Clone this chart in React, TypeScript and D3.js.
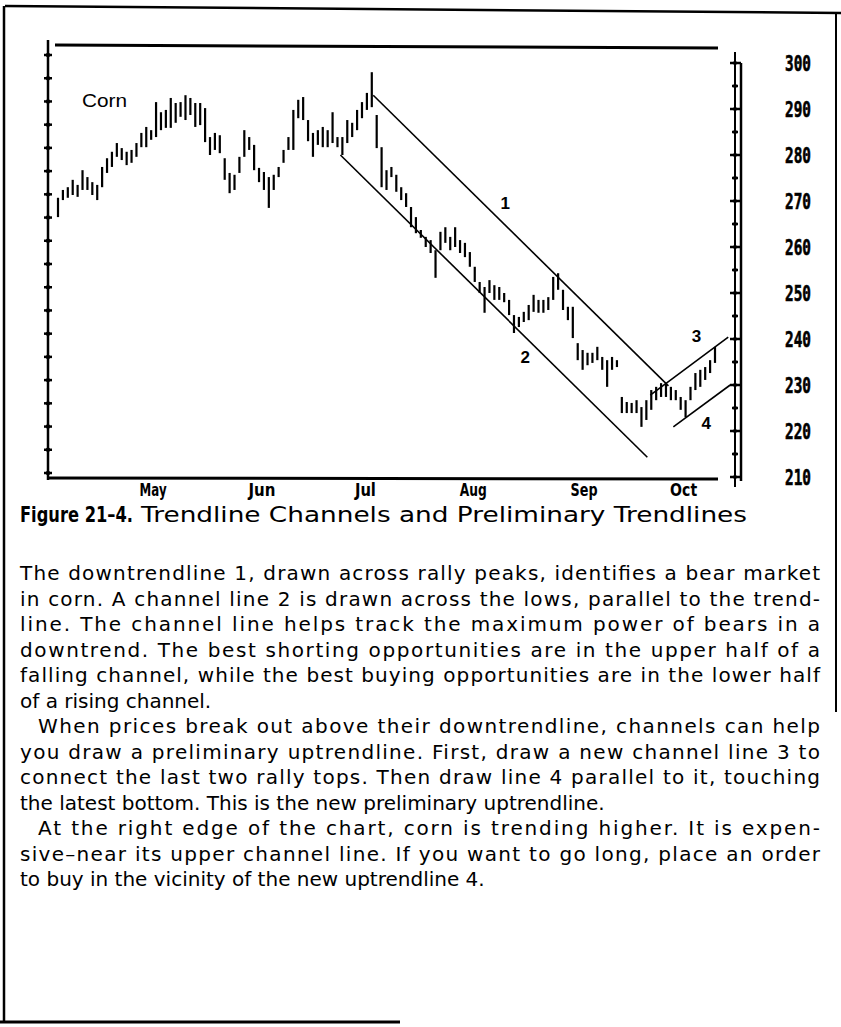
import React from "react";
import * as d3 from "d3";

// ---- data ----
const highs = [
  270.7, 272.4, 273.0, 274.6, 273.5, 276.7, 275.2, 274.1, 273.5, 277.4,
  279.3, 280.7, 282.6, 281.5, 280.7, 281.1, 282.6, 284.8, 286.1, 285.4,
  291.5, 289.3, 289.8, 292.4, 291.3, 291.5, 293.0, 292.4, 291.3, 291.3,
  290.2, 283.9, 284.8, 284.3, 279.3, 276.1, 275.7, 279.6, 285.4, 283.9,
  282.2, 277.2, 276.3, 275.2, 275.7, 277.4, 281.1, 283.9, 289.8, 292.0,
  292.6, 287.6, 284.8, 285.4, 286.1, 285.4, 289.3, 283.9, 283.9, 287.6,
  287.0, 289.8, 291.5, 293.5, 298.0, 288.7, 281.7, 276.7, 277.4, 275.7,
  273.0, 271.7, 268.7, 266.5, 263.7, 262.2, 261.5, 259.3, 263.3, 264.3,
  262.2, 264.3, 261.5, 260.9, 258.9, 255.7, 252.4, 251.3, 252.8, 251.7,
  251.3, 250.0, 248.5, 245.2, 244.8, 245.9, 247.4, 249.6, 248.5, 248.5,
  249.1, 253.5, 254.3, 250.7, 247.0, 247.0, 239.1, 237.6, 237.0, 237.0,
  238.3, 236.1, 235.4, 236.1, 235.4, 227.4, 226.3, 226.1, 226.7, 225.2,
  226.7, 228.9, 229.6, 230.4, 230.4, 229.6, 228.9, 227.4, 226.7, 229.6,
  232.6, 233.3, 233.9, 235.4, 238.3,
];
const lows = [
  266.5, 270.2, 270.7, 271.3, 270.9, 272.4, 272.4, 271.3, 270.2, 273.0,
  276.1, 277.4, 279.6, 278.9, 277.8, 278.3, 279.6, 281.7, 281.7, 283.3,
  283.9, 285.4, 285.9, 285.9, 287.0, 288.3, 287.6, 288.7, 286.1, 286.5,
  282.8, 280.0, 281.1, 280.4, 274.6, 271.7, 272.4, 276.1, 279.6, 281.1,
  276.7, 274.1, 272.4, 268.5, 272.4, 275.2, 278.3, 281.1, 281.1, 288.0,
  287.6, 283.0, 279.6, 282.2, 281.7, 281.7, 282.6, 281.7, 280.0, 282.6,
  283.9, 285.4, 288.0, 289.8, 290.4, 281.5, 273.0, 272.4, 275.2, 272.0,
  270.2, 268.7, 264.3, 263.0, 262.0, 260.0, 258.7, 253.3, 259.3, 260.9,
  259.3, 260.0, 258.7, 257.8, 255.7, 252.4, 250.0, 245.7, 250.0, 248.5,
  248.5, 248.0, 245.2, 241.3, 242.6, 243.7, 244.1, 245.9, 245.7, 245.7,
  246.3, 248.5, 250.7, 246.3, 244.1, 240.2, 235.4, 233.3, 234.3, 234.8,
  235.4, 233.3, 229.6, 233.3, 233.9, 223.9, 223.9, 223.9, 223.9, 220.9,
  222.4, 224.6, 226.7, 227.4, 227.4, 226.7, 226.7, 224.6, 223.0, 226.7,
  228.9, 229.6, 231.1, 232.6, 234.8,
];
const monthLabels = ["May", "Jun", "Jul", "Aug", "Sep", "Oct"];
const monthIndex = [19.4, 41.6, 62.7, 84.7, 107.3, 127.6];
const priceTicks = [300, 290, 280, 270, 260, 250, 240, 230, 220, 210];
// trendlines: start/end as [bar index, price]; label position likewise
const trendLines = [
  { id: "1", x1: 64.3, p1: 293.0, x2: 124.5, p2: 229.8, lx: 91.2, lp: 269.6 },
  { id: "2", x1: 57.6, p1: 280.0, x2: 120.2, p2: 214.3, lx: 95.3, lp: 236.1 },
  { id: "3", x1: 120.8, p1: 227.8, x2: 136.7, p2: 240.4, lx: 130.2, lp: 240.7 },
  { id: "4", x1: 125.5, p1: 220.9, x2: 137.1, p2: 230.0, lx: 132.2, lp: 221.7 },
];
const caption = ["Figure 21–4.", "Trendline Channels and Preliminary Trendlines"];
const bodyLines = [
  { t: "The downtrendline 1, drawn across rally peaks, identifies a bear market", j: true, ind: false },
  { t: "in corn. A channel line 2 is drawn across the lows, parallel to the trend-", j: true, ind: false },
  { t: "line. The channel line helps track the maximum power of bears in a", j: true, ind: false },
  { t: "downtrend. The best shorting opportunities are in the upper half of a", j: true, ind: false },
  { t: "falling channel, while the best buying opportunities are in the lower half", j: true, ind: false },
  { t: "of a rising channel.", j: false, ind: false },
  { t: "When prices break out above their downtrendline, channels can help", j: true, ind: true },
  { t: "you draw a preliminary uptrendline. First, draw a new channel line 3 to", j: true, ind: false },
  { t: "connect the last two rally tops. Then draw line 4 parallel to it, touching", j: true, ind: false },
  { t: "the latest bottom. This is the new preliminary uptrendline.", j: false, ind: false },
  { t: "At the right edge of the chart, corn is trending higher. It is expen-", j: true, ind: true },
  { t: "sive–near its upper channel line. If you want to go long, place an order", j: true, ind: false },
  { t: "to buy in the vicinity of the new uptrendline 4.", j: false, ind: false },
];

export default function App() {
  const W = 841, H = 1027;
  const x = d3.scaleLinear().domain([0, highs.length - 1]).range([58, 715]);
  const y = d3.scaleLinear().domain([210, 300]).range([477, 63]);
  const yLeft = d3.scaleLinear().domain([210, 300]).range([473, 55]);
  const halfTicks = d3.range(210, 300.1, 5);
  const axisX = 735;
  const textLeft = 20, textRight = 820;
  const bodyTop = 580, lineH = 25.5;
  const bodyFont = "'DejaVu Sans', 'Open Sans', sans-serif";

  return (
    <svg width={W} height={H} style={{ position: "absolute", left: 0, top: 0, background: "#fff" }}>
      <rect x={0} y={0} width={W} height={H} fill="#fff" />
      {/* outer frame */}
      <g stroke="#000" fill="none">
        <line x1={5} y1={6} x2={841} y2={13} strokeWidth={2.5} />
        <line x1={4} y1={6} x2={4} y2={1023} strokeWidth={2.5} />
        <line x1={836} y1={12} x2={836} y2={712} strokeWidth={2} />
        <line x1={0} y1={1022} x2={400} y2={1022} strokeWidth={3} />
      </g>

      {/* chart frame */}
      <g stroke="#000" fill="none">
        <line x1={55} y1={45} x2={718} y2={48} strokeWidth={3} />
        <line x1={48} y1={40} x2={48} y2={480} strokeWidth={2.5} />
        <line x1={48} y1={478} x2={718} y2={479} strokeWidth={3} />
        <line x1={axisX} y1={52} x2={axisX} y2={487} strokeWidth={2} />
        <line x1={axisX + 6} y1={63} x2={axisX + 6} y2={481} strokeWidth={2.5} />
      </g>
      {/* left ticks */}
      <g stroke="#000" strokeWidth={2.5}>
        {halfTicks.map((v) => (
          <g key={"l" + v}>
            <line x1={44} x2={52} y1={yLeft(v)} y2={yLeft(v)} />
            <circle cx={48} cy={yLeft(v)} r={2.2} fill="#000" stroke="none" />
          </g>
        ))}
      </g>
      {/* right ticks */}
      <g stroke="#000" strokeWidth={2.5}>
        {halfTicks.map((v) => {
          const major = v % 10 === 0;
          return (
            <g key={"r" + v}>
              <line x1={axisX - (major ? 5 : 3)} x2={major ? axisX + 6 : axisX + 3} y1={y(v)} y2={y(v)} />
              <circle cx={axisX} cy={y(v)} r={2} fill="#000" stroke="none" />
            </g>
          );
        })}
      </g>
      {/* right labels */}
      <g fontFamily="'DejaVu Sans Mono', monospace" fontWeight="bold" fontSize={21} fill="#000" stroke="#000" strokeWidth={0.6}>
        {priceTicks.map((v) => (
          <text key={"t" + v} x={785} y={y(v) + 7.5} textLength={26} lengthAdjust="spacingAndGlyphs">
            {String(v)}
          </text>
        ))}
      </g>
      {/* month labels */}
      <g fontFamily="'DejaVu Sans', sans-serif" fontWeight="bold" fontSize={17} fill="#000" textAnchor="middle">
        {monthLabels.map((m, i) => (
          <text key={m} x={x(monthIndex[i])} y={496} textLength={m === "Jul" ? 21 : 27} lengthAdjust="spacingAndGlyphs">
            {m}
          </text>
        ))}
      </g>

      {/* price bars */}
      <g stroke="#000" strokeWidth={2.2}>
        {highs.map((h, i) => (
          <line key={"b" + i} x1={x(i)} x2={x(i)} y1={y(h)} y2={y(lows[i])} />
        ))}
      </g>

      {/* trendlines */}
      <g stroke="#000" strokeWidth={1.6}>
        {trendLines.map((l) => (
          <line key={"tl" + l.id} x1={x(l.x1)} y1={y(l.p1)} x2={x(l.x2)} y2={y(l.p2)} />
        ))}
      </g>
      <g fontFamily="'Liberation Sans', Arial, sans-serif" fontSize={17} fontWeight="bold" fill="#000" textAnchor="middle">
        {trendLines.map((l) => (
          <text key={"tt" + l.id} x={x(l.lx)} y={y(l.lp) + 6}>{l.id}</text>
        ))}
      </g>
      <text x={82} y={107} fontFamily="'Liberation Sans', Arial, sans-serif" fontSize={19} fill="#000" textLength={45} lengthAdjust="spacingAndGlyphs">Corn</text>

      {/* caption */}
      <g transform="translate(20,522) scale(0.74,1)">
        <text x={0} y={0} fontFamily={bodyFont} fontWeight="bold" fontSize={22} fill="#000">{caption[0]}</text>
      </g>
      <text x={141} y={522} fontFamily={bodyFont} fontSize={22} fill="#000" textLength={606} lengthAdjust="spacingAndGlyphs">{caption[1]}</text>

      {/* body text */}
      <g fontFamily={bodyFont} fontSize={20} fill="#000">
        {bodyLines.map((l, i) => {
          const x0 = l.ind ? 38 : textLeft;
          return (
            <text
              key={"p" + i}
              x={x0}
              y={bodyTop + i * lineH}
              {...(l.j ? { textLength: textRight - x0, lengthAdjust: "spacing" } : {})}
            >
              {l.t}
            </text>
          );
        })}
      </g>
    </svg>
  );
}
